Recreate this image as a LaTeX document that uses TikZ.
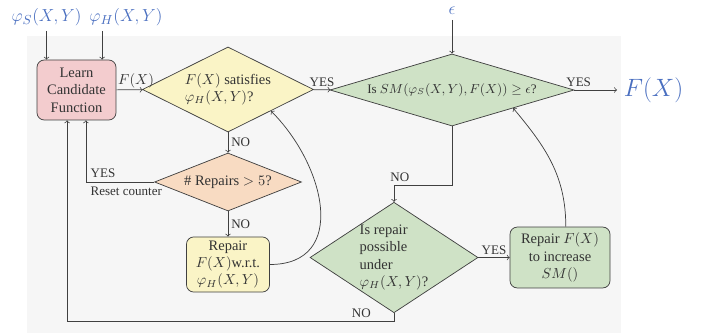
\documentclass[tikz,border=0pt]{standalone}
\usepackage{fontspec}
\setmainfont{Liberation Serif}
\usetikzlibrary{shapes.geometric}
\definecolor{bggray}{HTML}{F6F6F6}
\definecolor{linegray}{HTML}{404040}
\definecolor{textgray}{HTML}{333333}
\definecolor{learnpink}{HTML}{F3CCCE}
\definecolor{checkyellow}{HTML}{FAF4C6}
\definecolor{countorange}{HTML}{F8DBC2}
\definecolor{checkgreen}{HTML}{CFE2C6}
\definecolor{inputblue}{HTML}{4A6FC0}
\begin{document}
\begin{tikzpicture}[x=0.69pt,y=-0.69pt,
  every node/.style={text=textgray},
  box/.style={draw=linegray,line width=0.5pt,rounded corners=5pt,align=center,inner sep=0pt},
  decision/.style={draw=linegray,line width=0.5pt,shape=diamond,inner sep=0pt},
  lbl/.style={font=\small,inner sep=2pt},
  flow/.style={draw=linegray,line width=0.5pt,->}]
  \fill[bggray]
    (27,36) rectangle (621,333);
  \useasboundingbox
    (0,0) rectangle (705,333);
  \node[box,fill=learnpink,minimum width=54.5pt,minimum height=41.4pt]
    (learn) at (76.5,90) {Learn\\Candidate\\Function};
  \node[decision,fill=checkyellow,minimum width=118pt,minimum height=58.7pt,aspect=2,align=left]
    (satisfies) at (228,89.5) {$F(X)$ satisfies\\$\varphi_H(X,Y)$?};
  \node[decision,fill=checkgreen,minimum width=168.4pt,minimum height=49.7pt,aspect=3.4,font=\small]
    (similar) at (452,90) {Is $SM(\varphi_S(X,Y),F(X)) \geq \epsilon$?};
  \node[decision,fill=countorange,minimum width=101.4pt,minimum height=40pt,aspect=2.5]
    (count) at (228,182) {\# Repairs $> 5$?};
  \node[box,fill=checkyellow,minimum width=57.3pt,minimum height=38pt]
    (repairH) at (228,264.5) {Repair\\$F(X)$w.r.t.\\$\varphi_H(X,Y)$};
  \node[decision,fill=checkgreen,minimum width=114.5pt,minimum height=75.2pt,aspect=1.52,align=left]
    (possible) at (394,257.5) {Is repair\\possible\\under\\$\varphi_H(X,Y)$?};
  \node[box,fill=checkgreen,minimum width=69pt,minimum height=42pt]
    (repairS) at (560,257.5) {Repair $F(X)$\\to increase\\$SM()$};
  \node[text=inputblue,font=\fontsize{13}{15}\selectfont]
    (phiS) at (46.5,17) {$\varphi_S(X,Y)$};
  \node[text=inputblue,font=\fontsize{13}{15}\selectfont]
    (phiH) at (126,17) {$\varphi_H(X,Y)$};
  \node[text=inputblue,font=\large]
    (eps) at (452,11) {$\epsilon$};
  \node[text=inputblue,font=\fontsize{16}{19}\selectfont,anchor=west,inner sep=4.5pt]
    (out) at (617,90) {$F(X)$};
  \draw[flow]
    (phiS)
    --
    (phiS |- learn.north);
  \draw[flow]
    ([xshift=-16.5pt]phiH.south)
    --
    ([xshift=-16.5pt]phiH.south |- learn.north);
  \draw[flow]
    (eps)
    --
    (similar);
  \draw[flow]
    (learn)
    -- node[above right,inner sep=1pt,pos=0] {$F(X)$}
    (satisfies);
  \draw[flow]
    (satisfies)
    -- node[lbl,above] {YES}
    (similar);
  \draw[flow]
    (similar)
    -- node[lbl,above,pos=0.1] {YES}
    (out);
  \draw[flow]
    (satisfies)
    -- node[lbl,right] {NO}
    (count);
  \draw[flow]
    (count)
    -- node[lbl,right] {NO}
    (repairH);
  \draw[flow]
    (count)
    -| node[lbl,above right,inner sep=3pt] {YES}
       node[lbl,below right,inner sep=3pt] {Reset counter}
    ([xshift=6.5pt]learn.south);
  \draw[flow]
    (repairH)
    to[out=0,in=-45,looseness=1.3]
    (satisfies.south east);
  \draw[flow]
    (similar)
    -- ++(0,95)
    -| node[lbl,above,pos=0.45] {NO}
    (possible);
  \draw[flow]
    (possible)
    -- node[lbl,above] {YES}
    (repairS);
  \draw[flow]
    ([xshift=4pt]repairS.north)
    to[out=90,in=-50]
    (similar.south east);
  \draw[flow]
    (possible.south)
    -- ++(0,8)
    -| node[lbl,above,pos=0.05] {NO}
    ([xshift=-6.5pt]learn.south);
\end{tikzpicture}
\end{document}
